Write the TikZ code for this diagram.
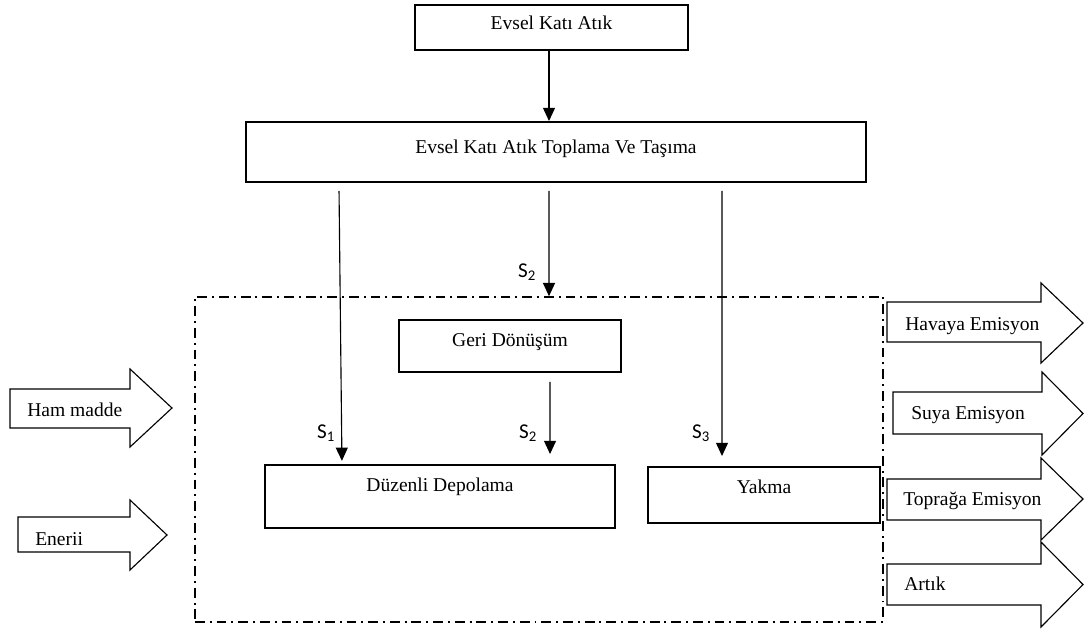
\documentclass[tikz,border=0pt]{standalone}
\usepackage{fontspec}
\setmainfont{Liberation Serif}
\newfontfamily\slabelfont{Carlito}
\usetikzlibrary{arrows.meta}

\tikzset{
  box/.style={draw, line width=1.4pt, font=\fontsize{13.9}{16}\selectfont, inner sep=0pt, text height=#1, text depth=8pt},
  box/.default=8pt,
  flow/.style={-{Triangle[length=0.33cm,width=0.3cm]}, line width=0.8pt},
  frame/.style={draw, line width=1.1pt, dash pattern=on 7pt off 3.5pt on 1.4pt off 3.5pt, inner sep=0pt},
  fat/.style={line width=0.8pt, line join=miter},
  fattext/.style={anchor=base west, inner sep=0pt, font=\fontsize{13.9}{16}\selectfont},
  slab/.style={inner sep=0pt, font=\slabelfont\fontsize{15}{17}\selectfont}
}

\begin{document}
\begin{tikzpicture}[x=0.025cm, y=-0.025cm]
\useasboundingbox (0,0) rectangle (1089,632);

\node[box=10.8pt, minimum width=6.825cm, minimum height=1.125cm] (atik) at (551.5,27.5) {Evsel Katı Atık};
\node[box=10.2pt, minimum width=15.5cm, minimum height=1.5cm] (toplama) at (556,152) {Evsel Katı Atık Toplama Ve Taşıma};
\node[frame, minimum width=17.2cm, minimum height=8.125cm] (sistem) at (539,459.5) {};
\node[box=8.6pt, minimum width=5.55cm, minimum height=1.3cm] (geri) at (510,346) {Geri Dönüşüm};
\node[box=1.4pt, minimum width=8.75cm, minimum height=1.575cm] (depo) at (440,496.5) {Düzenli Depolama};
\node[box=5.8pt, minimum width=5.8cm, minimum height=1.4cm] (yakma) at (764,495) {Yakma};

\draw[flow] ([xshift=-0.0625cm]atik.south) -- ([xshift=-0.0625cm]atik.south |- toplama.north);
\draw[flow, shorten <=0.2cm, shorten >=0.08cm] ([xshift=-5.425cm]toplama.south) -- ([xshift=-2.45cm]depo.north);
\draw[flow, shorten <=0.2cm] ([xshift=-0.175cm]toplama.south) -- ([xshift=0.25cm]sistem.north);
\draw[flow, shorten <=0.2cm, shorten >=0.25cm] ([xshift=4.15cm]toplama.south) -- ([xshift=-1.05cm]yakma.north);
\draw[flow, shorten <=0.22cm, shorten >=0.25cm] ([xshift=1cm]geri.south) -- ([xshift=2.75cm]depo.north);

\node[slab] (s2ust) at (527,272) {S\textsubscript{2}};
\node[slab] (s1) at (326,433) {S\textsubscript{1}};
\node[slab] (s2alt) at (528,433) {S\textsubscript{2}};
\node[slab] (s3) at (701,433) {S\textsubscript{3}};

% girdiler ve ciktilar
\foreach \n/\l/\bt/\bb/\h/\ht/\hb/\t/\tx/\ty/\txt in {
girdi1/10/389/428/130/369/447/172/27/416.5/Ham madde,%
girdi2/18/517/552/130/500/570/167/35/545/Enerii,%
cikti1/887/302/342/1041/283/363/1083/905/330.5/Havaya Emisyon,%
cikti2/893/392/434/1042/372/455/1083/911/419/Suya Emisyon,%
cikti3/887/479/520/1041/458/540/1083/903/505/Toprağa Emisyon,%
cikti4/887/564/605/1041/542/627/1083/904/590/Artık%
}
{
	\draw[fat] (\l,\bt) -- (\h,\bt) -- (\h,\ht) -- (\t,{(\ht+\hb)/2}) -- (\h,\hb) -- (\h,\bb) -- (\l,\bb) -- cycle;
	\node[fattext] (\n) at (\tx,\ty) {\txt};
}
\end{tikzpicture}
\end{document}
